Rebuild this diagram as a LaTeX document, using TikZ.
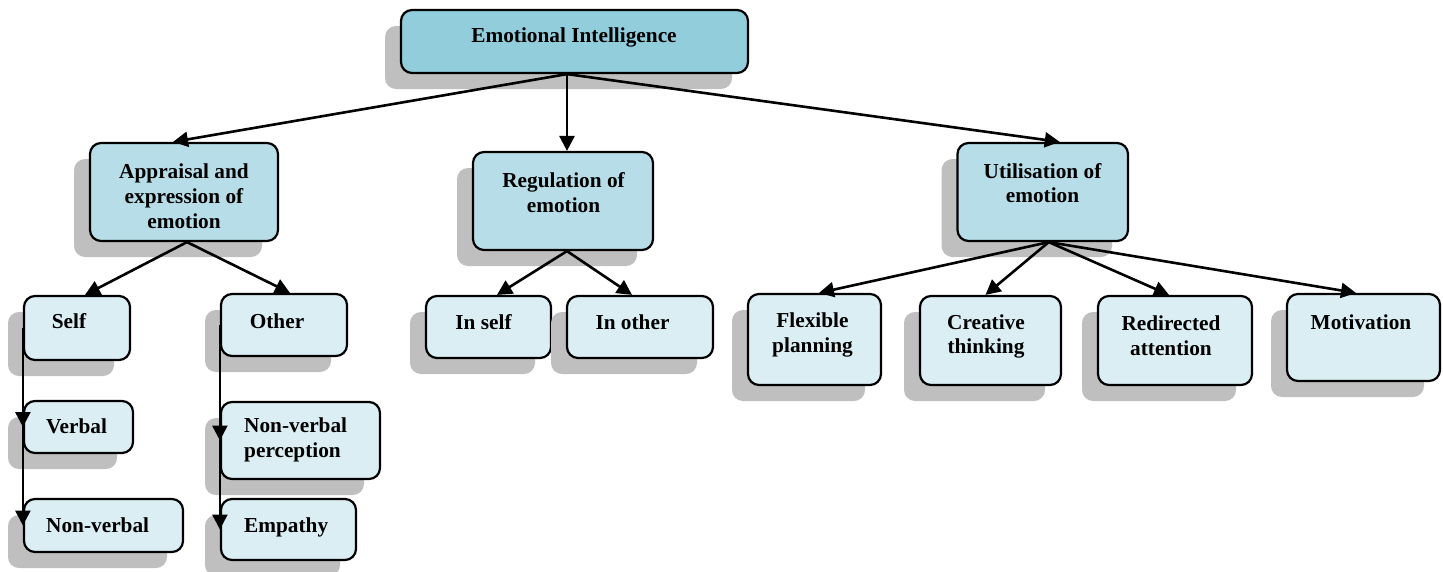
\documentclass[tikz,border=0pt]{standalone}
\usepackage{fontspec}
\setmainfont{Liberation Serif}
\usetikzlibrary{shadows,arrows.meta}
\definecolor{topfill}{HTML}{92CDDC}
\definecolor{midfill}{HTML}{B7DEE8}
\definecolor{leaffill}{HTML}{DAEEF3}
\definecolor{shadowgray}{HTML}{BFBFBF}
\tikzset{
  ebox/.style={draw=black, line width=2.2pt, rounded corners=11pt, inner sep=0pt,
    general shadow={fill=shadowgray, draw=none, shadow xshift=-16pt, shadow yshift=-16pt}},
  topbox/.style={ebox, fill=topfill},
  midbox/.style={ebox, fill=midfill},
  leafbox/.style={ebox, fill=leaffill},
  etext/.style={inner sep=0pt, font=\fontsize{21.3}{24.8}\selectfont\bfseries, align=center},
  ltext/.style={etext, anchor=west, align=left},
  conn/.style={line width=2.6pt, -{Triangle[length=15pt,width=15pt]}}
}
\begin{document}
\begin{tikzpicture}[x=1pt,y=-1pt]
\useasboundingbox (0,0) rectangle (1443,571);
% boxes
\node[topbox, minimum width=347pt, minimum height=63pt] (ei) at (574.5,41.5) {};
\node[midbox, minimum width=188pt, minimum height=98pt] (app) at (184,192) {};
\node[midbox, minimum width=180pt, minimum height=98pt] (reg) at (563,201) {};
\node[midbox, minimum width=170.5pt, minimum height=98pt] (ut) at (1042.75,192) {};
\node[leafbox, minimum width=106pt, minimum height=64pt] (self) at (77,328) {};
\node[leafbox, minimum width=126pt, minimum height=62pt] (other) at (284,325) {};
\node[leafbox, minimum width=109pt, minimum height=52pt] (verbal) at (78.5,427) {};
\node[leafbox, minimum width=159pt, minimum height=53pt] (nonverbal) at (103.5,525.5) {};
\node[leafbox, minimum width=159pt, minimum height=77pt] (nvp) at (300.5,440.5) {};
\node[leafbox, minimum width=135pt, minimum height=61pt] (empathy) at (288.5,529.5) {};
\node[leafbox, minimum width=125pt, minimum height=62pt] (inself) at (488.5,327) {};
\node[leafbox, minimum width=146pt, minimum height=62pt] (inother) at (640,327) {};
\node[leafbox, minimum width=133pt, minimum height=91pt] (flex) at (814.5,339.5) {};
\node[leafbox, minimum width=141pt, minimum height=89pt] (creative) at (990.5,340.5) {};
\node[leafbox, minimum width=154pt, minimum height=89pt] (redirected) at (1175,340.5) {};
\node[leafbox, minimum width=153pt, minimum height=87pt] (motivation) at (1363.5,337.5) {};
% texts
\node[etext] (ei-t) at (574,37.5) {Emotional Intelligence};
\node[etext] (app-t) at (184,196) {Appraisal and\\expression of\\emotion};
\node[etext] (reg-t) at (563.5,192.5) {Regulation of\\emotion};
\node[etext] (ut-t) at (1042.5,183) {Utilisation of\\emotion};
\node[etext] (self-t) at (69,321.5) {Self};
\node[etext] (other-t) at (277,321.5) {Other};
\node[ltext] (verbal-t) at (46,426.5) {Verbal};
\node[ltext] (nonverbal-t) at (46,525.5) {Non-verbal};
\node[ltext] (nvp-t) at (244,439.5) {Non-verbal\\perception};
\node[ltext] (empathy-t) at (244,527) {Empathy};
\node[etext] (inself-t) at (483.5,322.5) {In self};
\node[etext] (inother-t) at (632.5,322.5) {In other};
\node[etext] (flex-t) at (812.5,335) {Flexible\\planning};
\node[etext] (creative-t) at (986,336.5) {Creative\\thinking};
\node[etext] (redirected-t) at (1171,336) {Redirected\\attention};
\node[etext] (motivation-t) at (1361,322.5) {Motivation};
% connectors
\coordinate (eiout) at ([xshift=-7.5pt]ei.south);
\draw[conn] (eiout) -- ([xshift=-11pt]app.north);
\draw[conn] (eiout) -- (eiout |- reg.north);
\draw[conn] (eiout) -- ([xshift=17pt]ut.north);
\coordinate (appout) at ([xshift=3pt]app.south);
\draw[conn] (appout) -- ([xshift=8pt]self.north);
\draw[conn] (appout) -- ([xshift=6pt]other.north);
\coordinate (regout) at ([xshift=4pt]reg.south);
\draw[conn] (regout) -- ([xshift=8.5pt]inself.north);
\draw[conn] (regout) -- ([xshift=-8pt]inother.north);
\coordinate (utout) at ([xshift=6pt]ut.south);
\draw[conn] (utout) -- ([xshift=4.5pt]flex.north);
\draw[conn] (utout) -- ([xshift=-5pt]creative.north);
\draw[conn] (utout) -- ([xshift=-6pt]redirected.north);
\draw[conn] (utout) -- ([xshift=-7.5pt]motivation.north);
\draw[conn] (self.west) -- (verbal.west);
\draw[conn] (self.west) -- (nonverbal.west);
\draw[conn] (other.west) -- (nvp.west);
\draw[conn] (other.west) -- (empathy.west);
\end{tikzpicture}
\end{document}
